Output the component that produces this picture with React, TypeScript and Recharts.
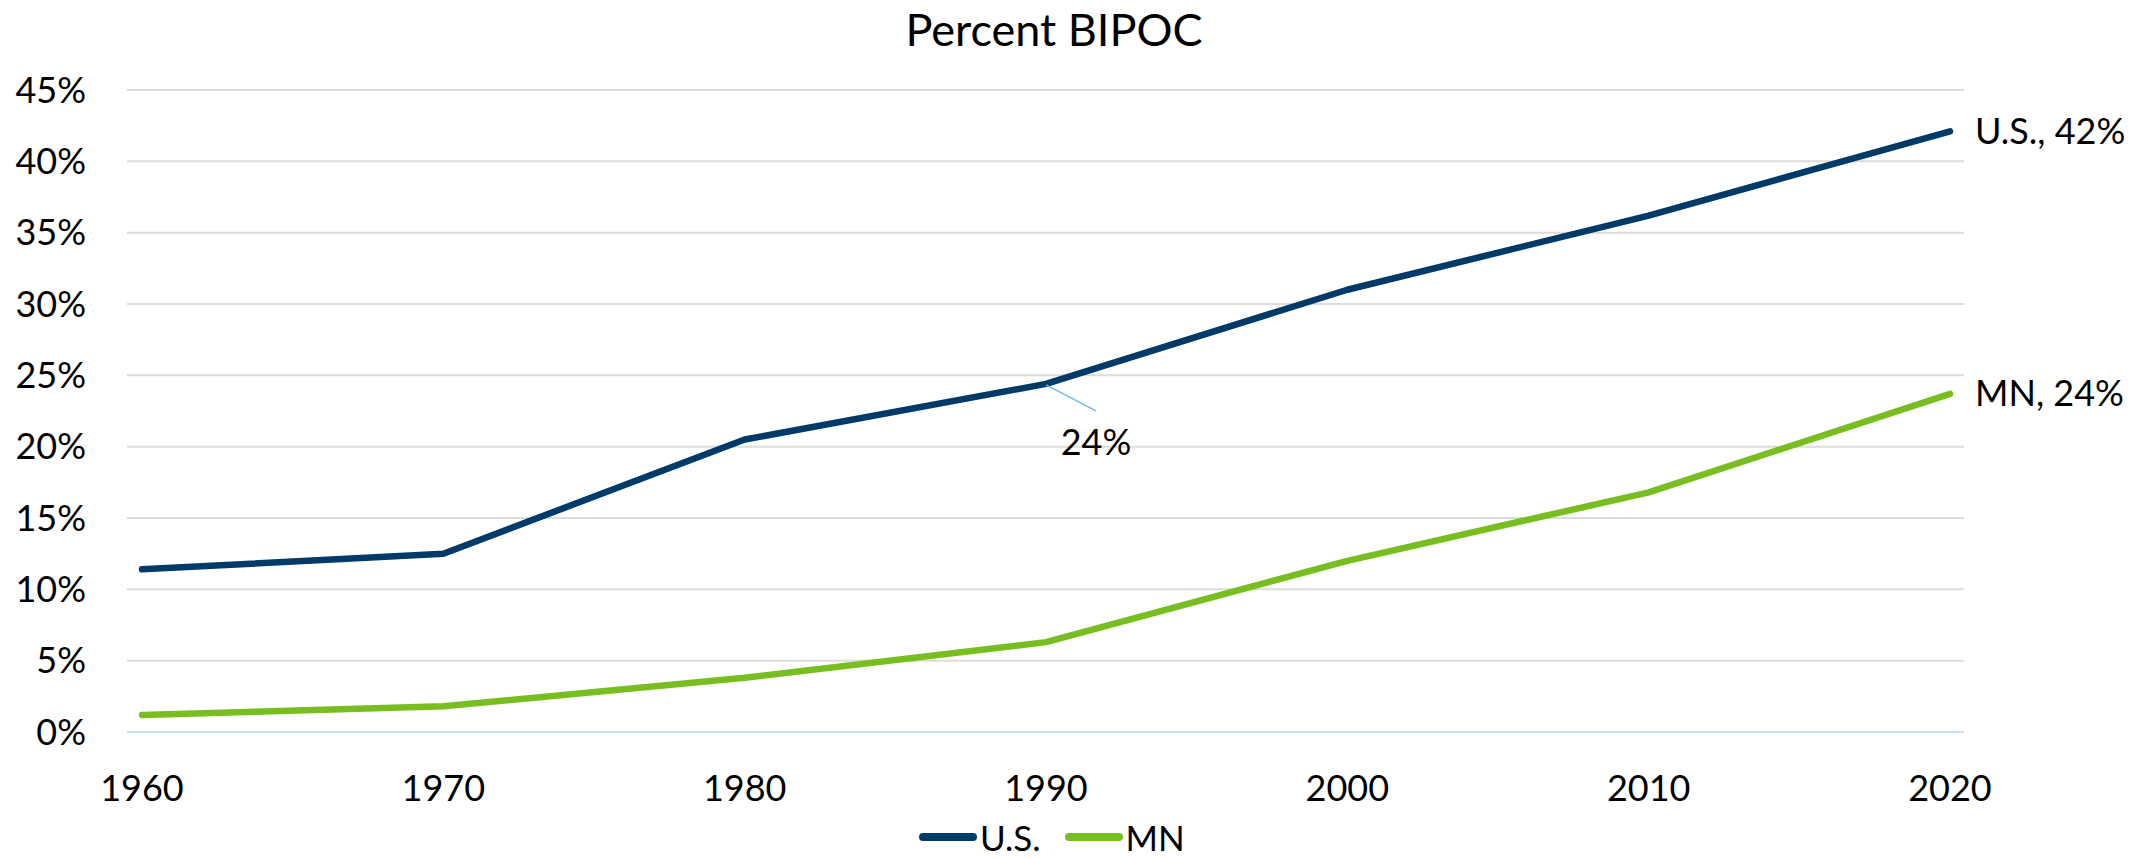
import React from "react";
import {
  LineChart,
  Line,
  XAxis,
  YAxis,
  CartesianGrid,
  ReferenceLine,
  Legend,
  LabelList,
  Customized,
} from "recharts";

const years = ["1960", "1970", "1980", "1990", "2000", "2010", "2020"];
const usValues = [11.4, 12.5, 20.5, 24.4, 31.0, 36.2, 42.1];
const mnValues = [1.2, 1.8, 3.8, 6.3, 12.0, 16.8, 23.7];
const yTicks = [0, 5, 10, 15, 20, 25, 30, 35, 40, 45];
const seriesNames = { us: "U.S.", mn: "MN" };
const chartTitle = "Percent BIPOC";

const data = years.map((year, i) => ({ year, us: usValues[i], mn: mnValues[i] }));

const FONT = "Lato, Carlito, Calibri, 'Noto Sans', sans-serif";
const US_COLOR = "#003a68";
const MN_COLOR = "#78be20";
const LAST = years.length - 1;
const ANNOT_INDEX = 3;

const EndLabel = (name: string) => (props: any) => {
  const { x, y, index, value } = props;
  if (index !== LAST) return null;
  return (
    <text
      x={x + 25}
      y={y}
      dy="0.35em"
      fontSize={36}
      fontFamily={FONT}
      fill="#000"
      textAnchor="start"
    >
      {`${name}, ${Math.round(value)}%`}
    </text>
  );
};

const AnnotLabel = (props: any) => {
  const { x, y, index, value } = props;
  if (index !== ANNOT_INDEX) return null;
  return (
    <g>
      <line x1={x} y1={y + 1} x2={x + 50} y2={y + 27} stroke="#74b9f0" strokeWidth={1.5} />
      <text
        x={x + 50}
        y={y + 71}
        fontSize={36}
        fontFamily={FONT}
        fill="#000"
        textAnchor="middle"
      >
        {`${Math.round(value)}%`}
      </text>
    </g>
  );
};

const LegendContent = () => {
  const item = (color: string, label: string, gapLeft: number) => (
    <div style={{ display: "flex", alignItems: "center", marginLeft: gapLeft, height: 30 }}>
      <div style={{ width: 58, height: 8, borderRadius: 4, background: color, marginRight: 3 }} />
      <span style={{ fontFamily: FONT, fontSize: 35, lineHeight: "30px", color: "#000", whiteSpace: "nowrap" }}>
        {label}
      </span>
    </div>
  );
  return (
    <div style={{ display: "flex", alignItems: "center", height: 30 }}>
      {item(US_COLOR, seriesNames.us, 0)}
      {item(MN_COLOR, seriesNames.mn, 24)}
    </div>
  );
};

const Title = () => (
  <text x={1054} y={46} textAnchor="middle" fontSize={45} fontFamily={FONT} fill="#000">
    {chartTitle}
  </text>
);

export default function App() {
  return (
    <div style={{ position: "absolute", left: 0, top: 0, width: 2141, height: 858, background: "#fff" }}>
      <LineChart
        width={2141}
        height={858}
        data={data}
        margin={{ top: 90, right: 177, bottom: 66, left: 0 }}
      >
        <CartesianGrid horizontal vertical={false} stroke="#dcdcd8" strokeWidth={2} />
        <XAxis
          dataKey="year"
          type="category"
          padding={{ left: 15, right: 14 }}
          axisLine={false}
          tickLine={false}
          tickSize={0}
          tickMargin={43}
          height={60}
          interval={0}
          tick={{ fontSize: 36, fontFamily: FONT, fill: "#000" }}
        />
        <YAxis
          domain={[0, 45]}
          ticks={yTicks}
          width={127}
          axisLine={false}
          tickLine={false}
          tickSize={0}
          tickMargin={41}
          interval={0}
          tickFormatter={(v: number) => `${v}%`}
          tick={{ fontSize: 36, fontFamily: FONT, fill: "#000" }}
        />
        <ReferenceLine y={0} stroke="#c4e0f7" strokeWidth={2} />
        <Line
          type="linear"
          dataKey="us"
          name={seriesNames.us}
          stroke={US_COLOR}
          strokeWidth={6.5}
          strokeLinecap="round"
          strokeLinejoin="round"
          dot={false}
          activeDot={false}
          isAnimationActive={false}
        >
          <LabelList dataKey="us" content={EndLabel(seriesNames.us)} />
          <LabelList dataKey="us" content={AnnotLabel} />
        </Line>
        <Line
          type="linear"
          dataKey="mn"
          name={seriesNames.mn}
          stroke={MN_COLOR}
          strokeWidth={6.5}
          strokeLinecap="round"
          strokeLinejoin="round"
          dot={false}
          activeDot={false}
          isAnimationActive={false}
        >
          <LabelList dataKey="mn" content={EndLabel(seriesNames.mn)} />
        </Line>
        <Legend
          layout="horizontal"
          verticalAlign="middle"
          align="center"
          content={<LegendContent />}
          wrapperStyle={{ top: 822, left: 919, width: 300, height: 30 }}
        />
        <Customized component={Title} />
      </LineChart>
    </div>
  );
}
